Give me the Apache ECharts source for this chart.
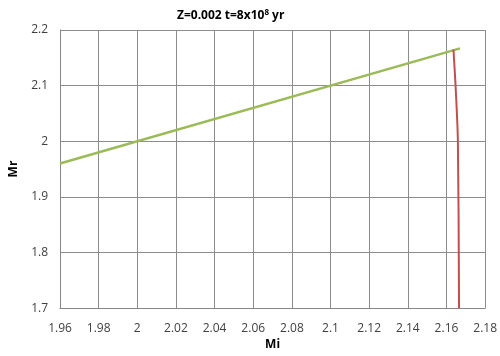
<!DOCTYPE html>
<html>
<head>
<meta charset="utf-8">
<script src="https://cdn.jsdelivr.net/npm/echarts@6/dist/echarts.min.js"></script>
<style>
  html, body { margin: 0; padding: 0; background: #fff; }
  #main { width: 500px; height: 356px; }
</style>
</head>
<body>
<div id="main"></div>
<script>
// data
var greenMi = [1.96, 2.167];
var greenMr = [1.96, 2.167];
var redMi = [2.1636, 2.1647, 2.1659, 2.1665];
var redMr = [2.165, 2.1, 2.0, 1.7];

function pairs(xs, ys) {
    return xs.map(function (x, i) { return [x, ys[i]]; });
}

var myChart = echarts.init(document.getElementById('main'));

var font = 'Open Sans, Liberation Sans, sans-serif';

var option = {
    animation: false,
    backgroundColor: '#fff',
    title: {
        text: '{t|Z=0.002 t=8x10}{s|8}{t| yr}',
        left: 172,
        top: 4,
        textStyle: {
            rich: {
                t: { fontSize: 12, fontWeight: 'bold', color: '#000', fontFamily: font },
                s: { fontSize: 8, fontWeight: 'bold', color: '#000', fontFamily: font, verticalAlign: 'top', padding: [0, 0, 6, 0] }
            }
        }
    },
    grid: {
        left: 57.5,
        right: 14,
        top: 30,
        bottom: 42
    },
    xAxis: {
        type: 'value',
        min: 1.96,
        max: 2.18,
        interval: 0.02,
        name: 'Mi',
        nameLocation: 'middle',
        nameGap: 30,
        nameTextStyle: { fontWeight: 'bold', fontSize: 12, color: '#000', fontFamily: font },
        axisLine: { show: true, lineStyle: { color: '#868686', width: 1 } },
        axisTick: { show: false },
        axisLabel: {
            margin: 14,
            fontSize: 12,
            color: '#404040',
            fontFamily: font,
            formatter: function (v) { return String(parseFloat(v.toFixed(2))); }
        },
        splitLine: { show: true, lineStyle: { color: '#8c8c8c', width: 1 } }
    },
    yAxis: {
        type: 'value',
        min: 1.7,
        max: 2.2,
        interval: 0.1,
        name: 'Mr',
        nameLocation: 'middle',
        nameGap: 40,
        nameRotate: 90,
        nameTextStyle: { fontWeight: 'bold', fontSize: 12, color: '#000', fontFamily: font },
        axisLine: { show: true, lineStyle: { color: '#868686', width: 1 } },
        axisTick: { show: false },
        axisLabel: {
            margin: 12,
            fontSize: 12,
            color: '#404040',
            fontFamily: font,
            formatter: function (v) { return String(parseFloat(v.toFixed(1))); }
        },
        splitLine: { show: true, lineStyle: { color: '#8c8c8c', width: 1 } }
    },
    series: [
        {
            type: 'line',
            data: pairs(greenMi, greenMr),
            showSymbol: false,
            lineStyle: { color: '#9bbb59', width: 2.5 }
        },
        {
            type: 'line',
            data: pairs(redMi, redMr),
            showSymbol: false,
            smooth: 0.3,
            lineStyle: { color: '#c0504d', width: 2 }
        }
    ]
};

myChart.setOption(option);
</script>
</body>
</html>
